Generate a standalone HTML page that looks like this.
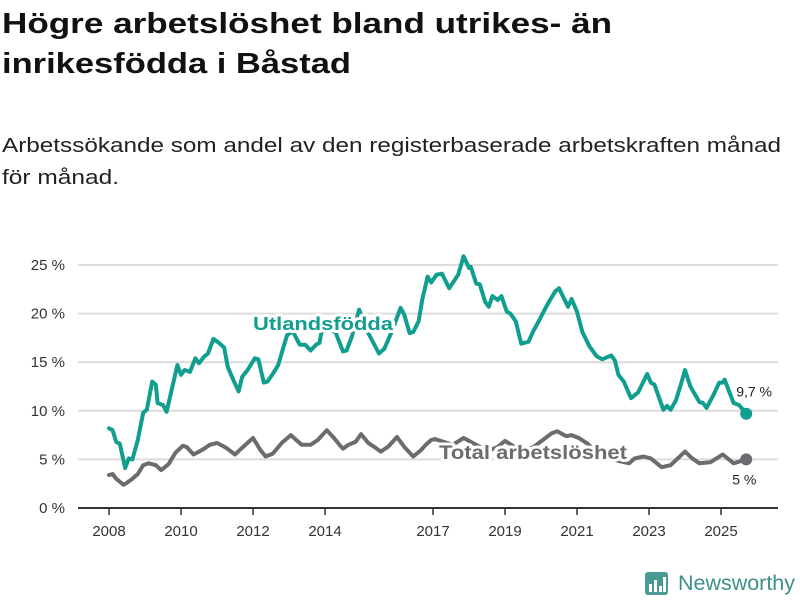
<!DOCTYPE html>
<html><head><meta charset="utf-8"><style>
html,body{margin:0;padding:0;background:#fff;}
svg{display:block;font-family:"Liberation Sans","DejaVu Sans",sans-serif;}
</style></head><body>
<svg id="chart" width="800" height="600" viewBox="0 0 800 600">
<text x="2" y="33" font-size="29" font-weight="bold" fill="#111" textLength="610" lengthAdjust="spacingAndGlyphs">Högre arbetslöshet bland utrikes- än</text>
<text x="2" y="73" font-size="29" font-weight="bold" fill="#111" textLength="349" lengthAdjust="spacingAndGlyphs">inrikesfödda i Båstad</text>
<text x="2" y="152" font-size="20" fill="#222" textLength="779" lengthAdjust="spacingAndGlyphs">Arbetssökande som andel av den registerbaserade arbetskraften månad</text>
<text x="2" y="184" font-size="20" fill="#222" textLength="117" lengthAdjust="spacingAndGlyphs">för månad.</text>
<g id="grid"></g>
<g id="yaxis"></g>
<g id="xaxis"></g>
<g id="series"></g>
<g>
<rect x="645" y="572" width="23" height="23" rx="3" fill="#4a9a94"/>
<rect x="649" y="584" width="3" height="8" fill="#fff"/><rect x="654" y="580" width="3" height="12" fill="#fff"/><rect x="659" y="586" width="3" height="6" fill="#fff"/><rect x="663" y="577" width="3" height="15" fill="#fff"/>
<text x="678" y="590" font-size="21" fill="#3d8f8a" textLength="117" lengthAdjust="spacingAndGlyphs">Newsworthy</text>
</g>
</svg>
<script>
const yTicks=[0,5,10,15,20,25];
const xTickYears=[2008,2010,2012,2014,2017,2019,2021,2023,2025];
const foreignDates=[2008.0,2008.1,2008.2,2008.3,2008.45,2008.55,2008.65,2008.8,2008.95,2009.05,2009.2,2009.3,2009.35,2009.5,2009.6,2009.9,2010.0,2010.1,2010.25,2010.4,2010.5,2010.65,2010.75,2010.9,2011.05,2011.2,2011.3,2011.45,2011.6,2011.7,2011.85,2012.05,2012.15,2012.3,2012.4,2012.55,2012.7,2012.85,2012.95,2013.1,2013.3,2013.45,2013.6,2013.75,2013.85,2013.9,2014.1,2014.3,2014.5,2014.6,2014.75,2014.95,2015.2,2015.5,2015.65,2015.85,2016.1,2016.2,2016.35,2016.45,2016.6,2016.7,2016.85,2016.95,2017.1,2017.25,2017.45,2017.7,2017.85,2018.0,2018.05,2018.2,2018.3,2018.45,2018.55,2018.65,2018.8,2018.9,2019.05,2019.15,2019.3,2019.45,2019.65,2019.8,2019.95,2020.1,2020.25,2020.4,2020.5,2020.75,2020.85,2021.0,2021.15,2021.35,2021.55,2021.7,2021.95,2022.05,2022.15,2022.3,2022.5,2022.7,2022.95,2023.05,2023.15,2023.4,2023.5,2023.6,2023.75,2023.9,2024.0,2024.15,2024.4,2024.5,2024.6,2024.8,2024.95,2025.05,2025.1,2025.35,2025.5,2025.7];
const foreignValues=[8.2,8.0,6.8,6.6,4.1,5.1,5.0,7.0,9.8,10.1,13.0,12.7,10.8,10.6,9.9,14.7,13.7,14.2,14.0,15.4,14.9,15.6,15.9,17.4,17.0,16.5,14.5,13.2,12.0,13.5,14.2,15.4,15.3,12.9,13.0,13.8,14.7,16.6,17.8,18.2,16.8,16.8,16.2,16.8,17.0,18.1,18.6,18.0,16.1,16.2,17.7,20.4,18.0,15.9,16.4,18.1,20.6,19.9,18.0,18.1,19.2,21.4,23.8,23.2,24.0,24.1,22.6,24.0,25.9,24.7,24.8,23.1,23.0,21.2,20.7,21.8,21.4,21.8,20.2,20.0,19.2,16.9,17.1,18.3,19.3,20.4,21.4,22.3,22.6,20.7,21.5,20.2,18.1,16.6,15.6,15.3,15.7,15.2,13.7,13.0,11.3,11.9,13.8,12.9,12.7,10.1,10.5,10.1,11.1,12.9,14.2,12.5,10.9,10.8,10.3,11.7,12.9,12.9,13.2,10.8,10.6,9.7];
const totalDates=[2008.0,2008.1,2008.2,2008.4,2008.5,2008.65,2008.8,2008.95,2009.1,2009.3,2009.45,2009.65,2009.85,2010.05,2010.15,2010.35,2010.6,2010.8,2011.0,2011.25,2011.5,2011.7,2012.0,2012.2,2012.35,2012.55,2012.8,2013.05,2013.35,2013.6,2013.8,2014.05,2014.25,2014.4,2014.5,2014.65,2014.85,2015.0,2015.2,2015.4,2015.55,2015.75,2016.0,2016.2,2016.45,2016.65,2016.8,2016.95,2017.05,2017.3,2017.55,2017.85,2018.0,2018.3,2018.5,2018.8,2019.0,2019.3,2019.5,2019.8,2020.05,2020.3,2020.45,2020.7,2020.85,2021.05,2021.3,2021.5,2021.8,2022.0,2022.2,2022.45,2022.6,2022.85,2023.05,2023.35,2023.6,2024.0,2024.2,2024.4,2024.7,2025.05,2025.35,2025.7];
const totalValues=[3.4,3.5,3.0,2.4,2.6,3.0,3.5,4.4,4.6,4.4,3.9,4.5,5.7,6.4,6.3,5.5,6.0,6.5,6.7,6.2,5.5,6.2,7.2,6.0,5.3,5.6,6.7,7.5,6.5,6.5,7.0,8.0,7.2,6.5,6.1,6.5,6.8,7.6,6.7,6.2,5.8,6.3,7.3,6.3,5.3,5.9,6.5,7.0,7.1,6.8,6.5,7.2,6.9,6.3,5.8,6.3,6.9,6.2,5.7,6.3,7.0,7.7,7.9,7.4,7.5,7.2,6.6,5.8,5.3,5.0,4.8,4.6,5.1,5.3,5.1,4.2,4.4,5.8,5.1,4.6,4.7,5.5,4.6,5.0];

const NS='http://www.w3.org/2000/svg';
const X=y=>109+(y-2008)*36;
const Y=v=>508-v*9.72;
function mk(tag,attrs,parent){const e=document.createElementNS(NS,tag);for(const k in attrs)e.setAttribute(k,attrs[k]);parent.appendChild(e);return e;}
const grid=document.getElementById('grid'),ya=document.getElementById('yaxis'),xa=document.getElementById('xaxis'),ser=document.getElementById('series');
yTicks.forEach(t=>{
  if(t>0){const l=mk('line',{x1:78,x2:778,y1:Y(t),y2:Y(t),stroke:'#dcdcdc','stroke-width':2},grid);
  
  }
  const tx=mk('text',{x:65,y:Y(t)+5,'text-anchor':'end','font-size':15,fill:'#333'},ya);
  tx.textContent=t+' %';
  
  
});
const ax=mk('line',{x1:78,x2:778,y1:508,y2:508,stroke:'#333','stroke-width':2},xa);


xTickYears.forEach(yr=>{
  const x=X(yr);
  const tk=mk('line',{x1:x,x2:x,y1:508,y2:515,stroke:'#333','stroke-width':1.5},xa);
  
  
  const tx=mk('text',{x:x,y:536,'text-anchor':'middle','font-size':15,fill:'#333'},xa);
  tx.textContent=yr;
  
  
});
function path(d,v){return d.map((t,i)=>(i?'L':'M')+X(t).toFixed(1)+','+Y(v[i]).toFixed(1)).join('');}
const gp=mk('path',{d:path(totalDates,totalValues),fill:'none',stroke:'#6b6b70','stroke-width':4,'stroke-linejoin':'round','stroke-linecap':'round'},ser);


const fp=mk('path',{d:path(foreignDates,foreignValues),fill:'none',stroke:'#109e8f','stroke-width':4,'stroke-linejoin':'round','stroke-linecap':'round'},ser);


const fl=foreignDates.length-1,tl=totalDates.length-1;
const fd=mk('circle',{cx:X(foreignDates[fl]),cy:Y(foreignValues[fl]),r:6,fill:'#109e8f'},ser);


const td=mk('circle',{cx:X(totalDates[tl]),cy:Y(totalValues[tl]),r:6,fill:'#6b6b70'},ser);


const halo={stroke:'#fff','stroke-width':6,'paint-order':'stroke','stroke-linejoin':'round'};
const l1=mk('text',Object.assign({x:X(foreignDates[fl])-10,y:Y(foreignValues[fl])-17,'font-size':14,fill:'#222'},halo),ser);
l1.textContent=foreignValues[fl].toString().replace('.',',')+' %';


const l2=mk('text',Object.assign({x:X(totalDates[tl])-14,y:Y(totalValues[tl])+25,'font-size':14,fill:'#222'},halo),ser);
l2.textContent=totalValues[tl].toString().replace('.',',')+' %';


const s1=mk('text',Object.assign({x:253,y:330,'font-size':18,'font-weight':'bold',fill:'#109e8f',textLength:140,lengthAdjust:'spacingAndGlyphs'},halo),ser);
s1.textContent='Utlandsfödda';


const s2=mk('text',Object.assign({x:439,y:459,'font-size':19,'font-weight':'bold',fill:'#6b6b70',textLength:188,lengthAdjust:'spacingAndGlyphs'},halo),ser);
s2.textContent='Total arbetslöshet';


</script>
</body></html>
